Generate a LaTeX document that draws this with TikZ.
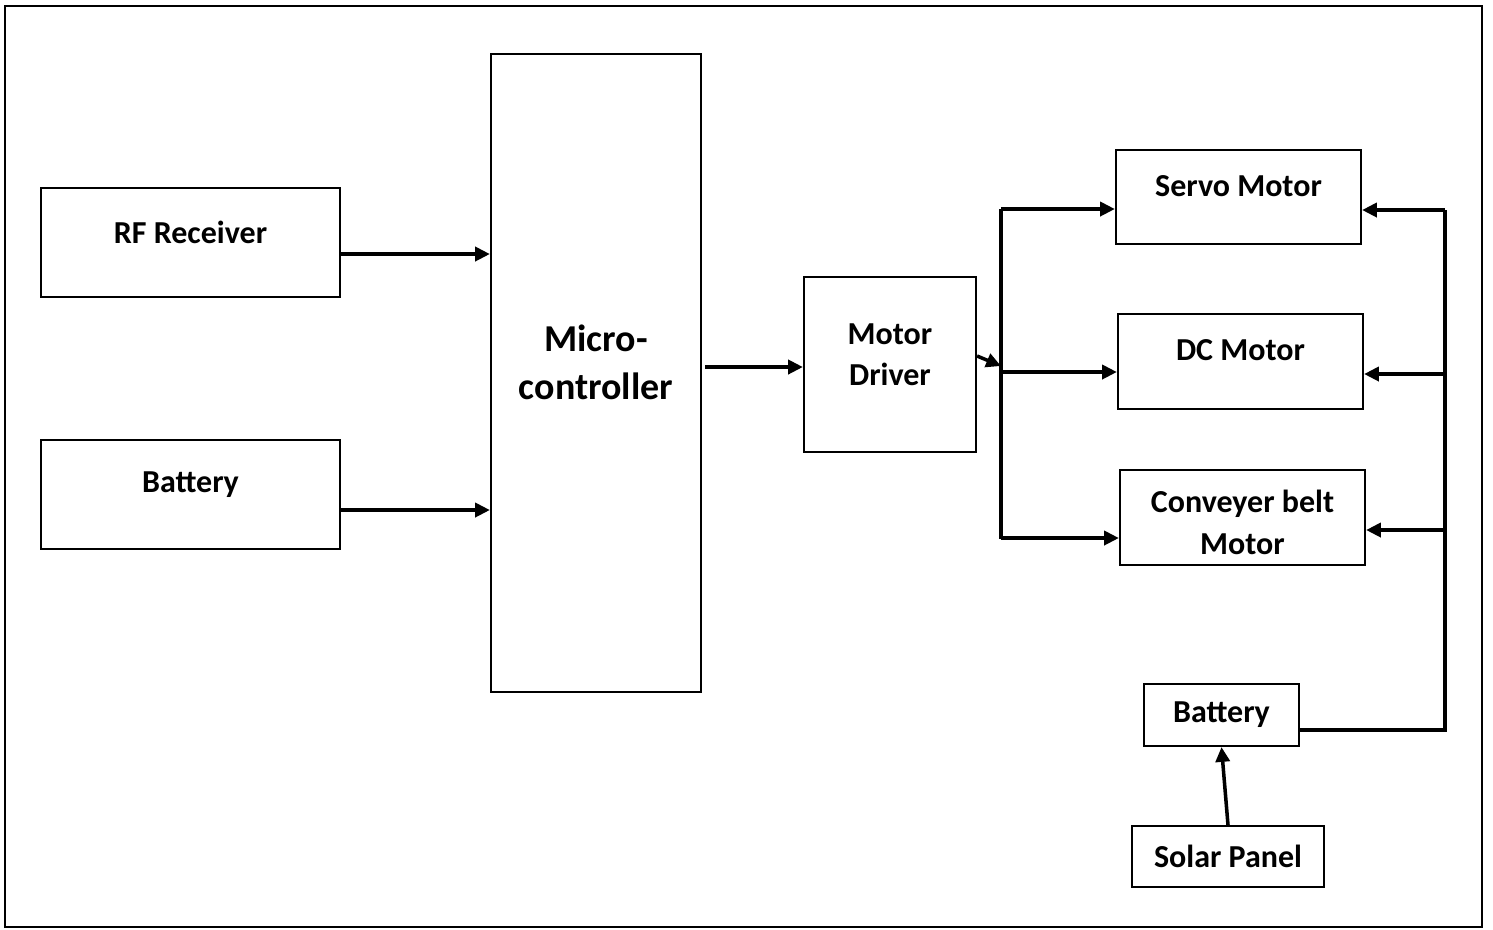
\documentclass[tikz,border=0pt]{standalone}
\usepackage{fontspec}
\setmainfont{Carlito}
\usetikzlibrary{arrows.meta}
\newcommand{\up}[2]{\raisebox{#1}[\height][\depth]{#2}}

\begin{document}
\begin{tikzpicture}[x=0.01cm, y=-0.01cm,
    box/.style={draw, line width=0.6pt, inner sep=0pt, align=center,
                font=\fontsize{9.1}{11.8}\selectfont\bfseries},
    arr/.style={line width=1pt, -{Triangle[length=4.2pt,width=4pt]}},
    bus/.style={line width=1.1pt}]
  \useasboundingbox (0,0) rectangle (1493,929);
  \draw[line width=0.8pt] (5,6) rectangle (1482,927);
  % left side
  \node[box, minimum width=2.99cm, minimum height=1.09cm] (rf) at (190.5,242.5) {\up{2.8pt}{RF Receiver}};
  \node[box, minimum width=2.99cm, minimum height=1.09cm] (batl) at (190.5,494.5) {\up{2.8pt}{Battery}};
  \node[box, minimum width=2.10cm, minimum height=6.38cm,
        font=\fontsize{10.8}{13.7}\selectfont\bfseries] (mcu) at (596,373) {\up{3pt}{Micro-}\\\up{3pt}{controller}};
  \node[box, minimum width=1.72cm, minimum height=1.75cm] (mdrv) at (890,364.5) {\up{2.8pt}{Motor}\\\up{2.8pt}{Driver}};
  % motors
  \node[box, minimum width=2.45cm, minimum height=0.94cm] (servo) at (1238.5,197) {\up{3.1pt}{Servo Motor}};
  \node[box, minimum width=2.45cm, minimum height=0.95cm] (dc) at (1240.5,361.5) {\up{3.2pt}{DC Motor}};
  \node[box, minimum width=2.45cm, minimum height=0.95cm] (conv) at (1242.5,517.5) {\up{-1.4pt}{Conveyer belt}\\\up{-1.4pt}{Motor}};
  \node[box, minimum width=1.55cm, minimum height=0.62cm] (batr) at (1221.5,715) {Battery};
  \node[box, minimum width=1.92cm, minimum height=0.61cm] (solar) at (1228,856.5) {Solar Panel};

  \coordinate (bl1) at (1001,209);
  \coordinate (bl2) at (1001,539);
  \coordinate (br1) at (1445,210);
  \coordinate (br2) at (1445,730);

  \draw[arr] (rf.east |- 0,254) -- (mcu.west |- 0,254);
  \draw[arr] (batl.east |- 0,510) -- (mcu.west |- 0,510);
  \draw[arr] ([xshift=0.03cm]mcu.east |- 0,367) -- (mdrv.west |- 0,367);
  \draw[arr] (mdrv.east |- 0,356) -- (1001,366);

  \draw[bus] (bl1) -- (bl2);
  \foreach \m/\y in {servo/209,dc/372,conv/538}{
    \draw[arr] (1001,\y) -- (\m.west |- 0,\y); }

  % supply from the battery
  \draw[bus] (batr.east |- br2) -- (br2) -- (br1);
  \foreach \m/\y in {servo/210,dc/374,conv/530}{
    \draw[arr] (1445,\y) -- (\m.east |- 0,\y); }
  \draw[arr] (solar.north) -- (batr.south);
\end{tikzpicture}
\end{document}
